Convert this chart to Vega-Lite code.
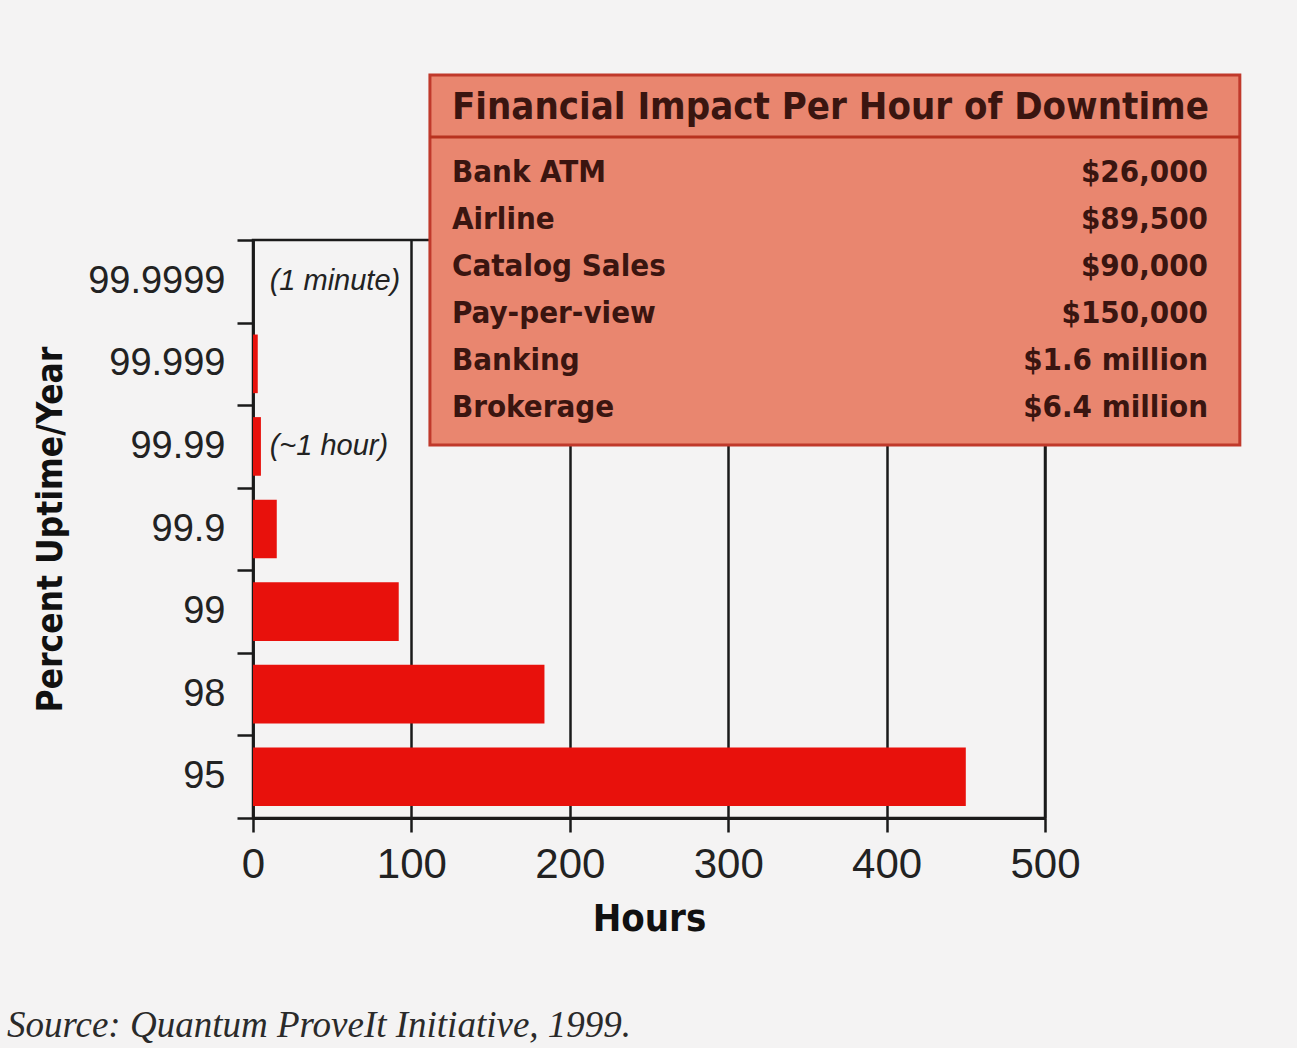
{
  "$schema": "https://vega.github.io/schema/vega-lite/v6.json",
  "width": 792,
  "height": 578,
  "autosize": {"type": "none"},
  "padding": {"left": 253, "top": 240, "right": 252, "bottom": 230},
  "background": "#f4f3f3",
  "config": {"view": {"stroke": "#1a1a1a", "strokeWidth": 2.5}},
  "title": {
    "text": "Source: Quantum ProveIt Initiative, 1999.",
    "orient": "bottom",
    "anchor": "start",
    "frame": "group",
    "font": "Liberation Serif",
    "fontStyle": "italic",
    "fontWeight": "normal",
    "fontSize": 37,
    "color": "#2a2a2a",
    "offset": 70,
    "dx": -246
  },
  "datasets": {
    "uptime": [
      {"pct": "99.9999", "hours": 0},
      {"pct": "99.999", "hours": 3},
      {"pct": "99.99", "hours": 5},
      {"pct": "99.9", "hours": 15},
      {"pct": "99", "hours": 92},
      {"pct": "98", "hours": 184},
      {"pct": "95", "hours": 450}
    ],
    "notes": [
      {"pct": "99.9999", "note": "(1 minute)"},
      {"pct": "99.99", "note": "(~1 hour)"}
    ],
    "header": [{"title": "Financial Impact Per Hour of Downtime"}],
    "impact": [
      {"row": 1, "name": "Bank ATM", "value": "$26,000"},
      {"row": 2, "name": "Airline", "value": "$89,500"},
      {"row": 3, "name": "Catalog Sales", "value": "$90,000"},
      {"row": 4, "name": "Pay-per-view", "value": "$150,000"},
      {"row": 5, "name": "Banking", "value": "$1.6 million"},
      {"row": 6, "name": "Brokerage", "value": "$6.4 million"}
    ]
  },
  "layer": [
    {
      "layer": [
        {
          "data": {"name": "uptime"},
          "mark": {"type": "bar", "color": "#e8110c", "height": {"band": 0.71}},
          "encoding": {
            "y": {
              "field": "pct",
              "type": "nominal",
              "sort": null,
              "scale": {
                "domain": ["99.9999", "99.999", "99.99", "99.9", "99", "98", "95"],
                "paddingInner": 0,
                "paddingOuter": 0
              },
              "axis": {
                "title": "Percent Uptime/Year",
                "titleFont": "DejaVu Sans Condensed, DejaVu Sans",
                "titleFontWeight": "bold",
                "titleFontSize": 35,
                "titleColor": "#111",
                "titlePadding": 19,
                "labelFont": "Liberation Sans",
                "labelFontSize": 38,
                "labelColor": "#222",
                "labelPadding": 12,
                "tickBand": "extent",
                "tickSize": 16,
                "tickWidth": 2.5,
                "tickColor": "#1a1a1a",
                "domainColor": "#1a1a1a",
                "domainWidth": 2.5,
                "grid": false
              }
            },
            "x": {
              "field": "hours",
              "type": "quantitative",
              "scale": {"domain": [0, 500], "nice": false},
              "axis": {
                "values": [0, 100, 200, 300, 400, 500],
                "title": "Hours",
                "titleFont": "DejaVu Sans Condensed, DejaVu Sans",
                "titleFontWeight": "bold",
                "titleFontSize": 38,
                "titleColor": "#111",
                "titlePadding": 15,
                "labelFont": "Liberation Sans",
                "labelFontSize": 42,
                "labelColor": "#222",
                "labelPadding": 12,
                "labelFlush": false,
                "tickSize": 14,
                "tickWidth": 2.5,
                "tickColor": "#1a1a1a",
                "domainColor": "#1a1a1a",
                "domainWidth": 3,
                "grid": true,
                "gridColor": "#1a1a1a",
                "gridWidth": 2.5,
                "gridOpacity": 1
              }
            }
          }
        },
        {
          "data": {"name": "notes"},
          "mark": {
            "type": "text",
            "align": "left",
            "baseline": "middle",
            "font": "Liberation Sans",
            "fontStyle": "italic",
            "fontSize": 29,
            "color": "#222"
          },
          "encoding": {
            "y": {"field": "pct", "type": "nominal"},
            "x": {"datum": 10.5},
            "text": {"field": "note"}
          }
        }
      ]
    },
    {
      "layer": [
        {
          "data": {"name": "header"},
          "mark": {"type": "rect", "fill": "#e9866f", "stroke": "#c0392b", "strokeWidth": 3},
          "encoding": {
            "x": {"datum": 111.7},
            "x2": {"datum": 623},
            "y": {
              "datum": -1.085,
              "type": "quantitative",
              "scale": {"domain": [2.4255, 14.723], "reverse": true, "nice": false, "zero": false},
              "axis": null
            },
            "y2": {"datum": 6.787}
          }
        },
        {
          "data": {"name": "header"},
          "mark": {"type": "rule", "stroke": "#b8321f", "strokeWidth": 3},
          "encoding": {
            "x": {"datum": 111.7},
            "x2": {"datum": 623},
            "y": {"datum": 0.234, "type": "quantitative"}
          }
        },
        {
          "data": {"name": "header"},
          "mark": {
            "type": "text",
            "align": "left",
            "baseline": "middle",
            "font": "DejaVu Sans Condensed, DejaVu Sans",
            "fontWeight": "bold",
            "fontSize": 38,
            "color": "#3a1510"
          },
          "encoding": {
            "x": {"datum": 125.6},
            "y": {"datum": -0.383, "type": "quantitative"},
            "text": {"field": "title"}
          }
        },
        {
          "data": {"name": "impact"},
          "mark": {
            "type": "text",
            "align": "left",
            "baseline": "middle",
            "font": "DejaVu Sans Condensed, DejaVu Sans",
            "fontWeight": "bold",
            "fontSize": 31,
            "color": "#3a1510"
          },
          "encoding": {
            "x": {"datum": 125.6},
            "y": {"field": "row", "type": "quantitative"},
            "text": {"field": "name"}
          }
        },
        {
          "data": {"name": "impact"},
          "mark": {
            "type": "text",
            "align": "right",
            "baseline": "middle",
            "font": "DejaVu Sans Condensed, DejaVu Sans",
            "fontWeight": "bold",
            "fontSize": 31,
            "color": "#3a1510"
          },
          "encoding": {
            "x": {"datum": 602.9},
            "y": {"field": "row", "type": "quantitative"},
            "text": {"field": "value"}
          }
        }
      ]
    }
  ],
  "resolve": {"scale": {"y": "independent"}}
}
